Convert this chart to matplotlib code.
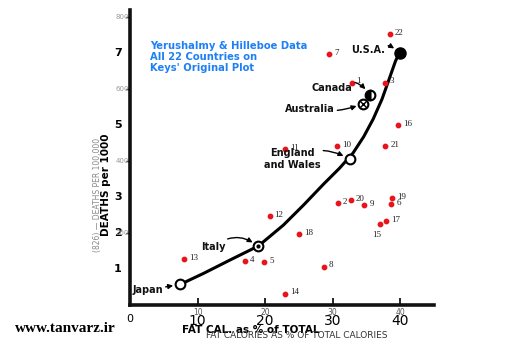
import matplotlib
matplotlib.use("Agg")
import matplotlib.pyplot as plt
import numpy as np

# numbered countries (red dots): fat % of calories, deaths per 1000
country_num = [1, 2, 3, 4, 5, 6, 7, 8, 9, 10, 11,
               12, 13, 14, 15, 16, 17, 18, 19, 20, 21, 22]
fat_pct = [32.8, 30.8, 37.7, 17.0, 19.9, 38.7, 29.5, 28.7, 34.7, 30.7, 23.0,
           20.7, 8.0, 23.0, 37.0, 39.7, 37.9, 25.0, 38.8, 32.7, 37.8, 38.5]
deaths = [6.18, 2.83, 6.18, 1.22, 1.19, 2.81, 6.97, 1.06, 2.78, 4.42, 4.33,
          2.47, 1.28, 0.31, 2.25, 5.00, 2.33, 1.97, 2.97, 2.92, 4.42, 7.53]

# Keys' six countries
keys_names = ["Japan", "Italy", "England\nand Wales", "Australia", "Canada", "U.S.A."]
keys_fat = [7.4, 19.0, 32.5, 34.5, 35.5, 39.9]
keys_deaths = [0.57, 1.63, 4.05, 5.60, 5.85, 7.01]

# hand-drawn curve
curve_x = [7.4, 10.9, 14.8, 19.0, 22.7, 25.7, 28.6, 31.0, 33.0, 34.6, 36.0, 37.3, 38.4, 39.3, 39.9]
curve_y = [0.57, 0.88, 1.25, 1.64, 2.22, 2.78, 3.35, 3.80, 4.22, 4.68, 5.17, 5.72, 6.30, 6.78, 7.02]

fig = plt.figure(figsize=(5.25, 3.52), dpi=100)
ax = fig.add_axes([130 / 525, 47 / 352, 304 / 525, 295 / 352])
ax.set_xlim(0, 45)
ax.set_ylim(0, 8.2)

for s in ["top", "right"]:
    ax.spines[s].set_visible(False)
for s in ["left", "bottom"]:
    ax.spines[s].set_linewidth(2.6)
    ax.spines[s].set_color("#111111")

ax.set_xticks([10, 20, 30, 40])
ax.set_xticklabels([])
ax.tick_params(axis="x", direction="in", length=5, width=1.2)
ax.set_yticks([2, 4, 6, 8])
ax.set_yticklabels([])
ax.tick_params(axis="y", direction="out", length=3, width=1)

# curve and country markers
ax.plot(curve_x, curve_y, color="black", lw=2.2, solid_capstyle="round",
        solid_joinstyle="round", zorder=3)
ax.plot(keys_fat[:3], keys_deaths[:3], "o", ms=7, mfc="white", mec="black", mew=1.5, zorder=4)
ax.plot(keys_fat[1], keys_deaths[1], "o", ms=2, color="black", zorder=5)
ax.plot(keys_fat[3], keys_deaths[3], "o", ms=7, mfc="white", mec="black", mew=1.5, zorder=4)
ax.plot(keys_fat[3], keys_deaths[3], "x", ms=4, color="black", mew=1, zorder=5)
ax.plot(keys_fat[4], keys_deaths[4], "o", ms=7, fillstyle="left", color="black",
        mfc="black", mfcalt="white", mec="black", mew=1.5, zorder=4)
ax.plot(keys_fat[5], keys_deaths[5], "o", ms=8, color="black", zorder=4)

ax.scatter(fat_pct, deaths, s=10, color="#e8141b", zorder=6)
for n, x, y in zip(country_num, fat_pct, deaths):
    dx, dy, ha = 3.5, 1, "left"
    if n == 15:
        dx, dy, ha = -2, -8, "center"
    ax.annotate(str(n), (x, y), xytext=(dx, dy), textcoords="offset points",
                fontsize=6.5, family="Liberation Serif", color="#222222", ha=ha, va="center")

# country labels with arrows
lab_pos = [(2.6, 0.42), (12.4, 1.62), (24.0, 4.06), (26.6, 5.44), (29.9, 6.03), (35.3, 7.1)]
rads = [0.0, -0.4, -0.3, 0.15, -0.5, -0.4]
for name, (tx, ty), px, py, r in zip(keys_names, lab_pos, keys_fat, keys_deaths, rads):
    ax.annotate(name, (px, py), xytext=(tx, ty), fontsize=7, fontweight="bold",
                ha="center", va="center", color="#111111", zorder=7,
                arrowprops=dict(arrowstyle="-|>", color="black", lw=1,
                                shrinkA=0, shrinkB=5, mutation_scale=7,
                                connectionstyle="arc3,rad=%s" % r))

# y axis labels (old scanned figure has two scales)
for v in [1, 2, 3, 5, 7]:
    ax.text(-1.8, v, str(v), fontsize=8, fontweight="bold", ha="center", va="center", clip_on=False)
for v in [2, 4, 6, 8]:
    ax.text(-1.2, v, str(v * 100), fontsize=5, color="#999999", ha="center", va="center", clip_on=False)
ax.text(-3.5, 3.33, "DEATHS per 1000", rotation=90, fontsize=7.5, fontweight="bold",
        ha="center", va="center", clip_on=False)
ax.text(-4.8, 3.05, "(826) \u2014 DEATHS PER 100,000", rotation=90, fontsize=5.5,
        color="#888888", ha="center", va="center", clip_on=False)

# x axis labels
ax.text(0, -0.25, "0", fontsize=8, ha="center", va="top", clip_on=False)
for v in [10, 20, 30, 40]:
    ax.text(v, -0.08, str(v), fontsize=5.5, color="#555555", ha="center", va="top", clip_on=False)
    ax.text(v, -0.25, str(v), fontsize=10, ha="center", va="top", clip_on=False)
ax.text(17.9, -0.55, "FAT CAL. as % of TOTAL", fontsize=7.5, fontweight="bold",
        ha="center", va="top", clip_on=False)
ax.text(24.7, -0.72, "FAT CALORIES AS % OF TOTAL CALORIES", fontsize=6.5,
        color="#333333", ha="center", va="top", clip_on=False)

ax.text(3, 7.33, "Yerushalmy & Hilleboe Data\nAll 22 Countries on\nKeys' Original Plot",
        fontsize=7.2, fontweight="bold", color="#1f80f5", ha="left", va="top", linespacing=1.1)

fig.text(15 / 525, 1 - 329 / 352, "www.tanvarz.ir", fontsize=11, fontweight="bold",
         family="Liberation Serif", ha="left", va="center")

fig.savefig("out.png", dpi=100)
